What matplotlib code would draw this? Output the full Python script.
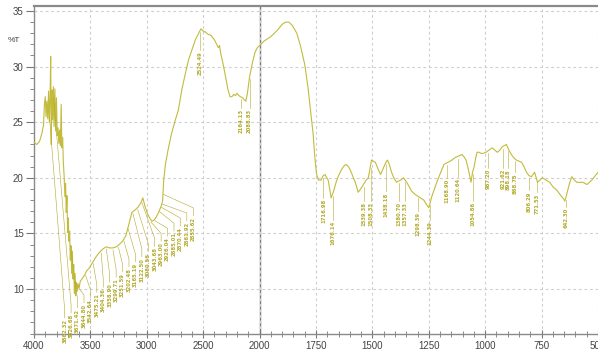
import numpy as np
import matplotlib
matplotlib.use('Agg')
import matplotlib.pyplot as plt
from matplotlib.ticker import FixedLocator

# Spectrum (wavenumber cm-1, %T)
wavenumber = [
    4000, 3975, 3950, 3930, 3915, 3908, 3900, 3893, 3886, 3878, 3871, 3864, 3857, 3852, 3847,
    3841, 3835, 3828, 3822, 3815, 3808, 3801, 3794, 3787, 3780, 3773, 3766, 3759, 3753, 3746,
    3740, 3733, 3726, 3720, 3714, 3708, 3702, 3696, 3690, 3684, 3678, 3672, 3666, 3660, 3654,
    3648, 3642, 3636, 3630, 3624, 3617, 3610, 3600, 3590, 3575, 3555, 3535, 3510, 3480, 3450,
    3420, 3390, 3360, 3330, 3300, 3270, 3245, 3215, 3185, 3160, 3132, 3105, 3075, 3050, 3035,
    3015, 2995, 2975, 2955, 2935, 2915, 2895, 2875, 2860, 2850, 2835, 2810, 2780, 2750, 2720,
    2690, 2660, 2630, 2600, 2570, 2545, 2520, 2500, 2480, 2455, 2430, 2400, 2380, 2365, 2355,
    2345, 2325, 2300, 2280, 2262, 2245, 2230, 2215, 2200, 2185, 2170, 2150, 2135, 2122, 2108,
    2090, 2065, 2040, 2020, 2000,
    1980, 1950, 1920, 1900, 1885, 1870, 1855, 1835, 1818, 1800, 1786, 1775, 1763, 1755, 1748,
    1740, 1728, 1718, 1710, 1702, 1696, 1688, 1683, 1672, 1661, 1650, 1638, 1625, 1616, 1606,
    1598, 1588, 1576, 1563, 1552, 1540, 1528, 1518, 1510, 1504, 1495, 1487, 1475, 1464, 1451,
    1440, 1433, 1425, 1415, 1405, 1393, 1385, 1375, 1362, 1348, 1337, 1326, 1310, 1295, 1280,
    1272, 1260, 1250, 1237, 1220, 1205, 1195, 1183, 1165, 1147, 1135, 1125, 1113, 1103, 1094,
    1085, 1075, 1063, 1056, 1049, 1042, 1036, 1027, 1018, 1008, 996, 983, 969, 958, 946,
    935, 924, 915, 906, 895, 884, 873, 862, 850, 839, 828, 817, 806, 795, 788,
    781, 774, 768, 757, 746, 730, 714, 700, 683, 672, 661, 652, 647, 640, 634,
    625, 616, 605, 594, 580, 567, 558, 549, 538, 527, 512, 500,
]
transmittance = [
    23.2, 23.0, 23.3, 24.0, 24.8, 26.6, 27.3, 25.5, 26.9, 25.3, 27.8, 25.0, 27.6, 30.9, 23.0,
    27.9, 25.2, 28.2, 24.6, 28.0, 24.2, 27.2, 23.8, 24.5, 23.1, 24.3, 22.9, 26.6, 22.7, 23.6,
    21.4, 20.2, 18.3, 19.5, 16.9, 18.4, 15.1, 16.4, 14.3, 15.2, 12.6, 13.9, 11.4, 13.4, 10.9,
    12.2, 9.6, 11.4, 9.4, 10.6, 9.8, 10.5, 10.1, 10.7, 10.9, 11.2, 11.6, 11.9, 12.4, 12.9,
    13.3, 13.6, 13.8, 13.7, 13.7, 13.8, 14.0, 14.3, 14.8, 15.8, 16.9, 17.1, 17.4, 17.8, 18.2,
    17.4, 16.8, 16.4, 16.1, 16.2, 16.5, 16.9, 17.4, 17.9, 19.8, 21.2, 22.6, 24.0, 25.1, 26.1,
    27.9, 29.3, 30.6, 31.5, 32.4, 32.9, 33.4, 33.2, 33.1, 32.9, 32.8, 32.4, 32.0, 31.7, 31.9,
    31.2, 30.3, 29.0, 27.9, 27.3, 27.3, 27.5, 27.4, 27.6, 27.4, 27.3, 27.2, 27.0, 26.9, 27.6,
    29.0, 30.3, 31.3, 31.7, 31.9,
    32.3, 32.7, 33.3, 33.8, 34.0, 34.0, 33.7, 33.0, 31.8, 30.2, 28.2, 26.2, 24.0, 21.8, 20.4,
    19.8, 19.8, 20.2, 20.3, 20.0, 19.8, 18.8, 18.2, 18.8, 19.6, 20.2, 20.7, 21.1, 21.2, 21.0,
    20.7, 20.2, 19.6, 18.7, 19.0, 19.4, 19.8, 20.0, 20.9, 21.6, 21.5, 21.4, 20.8, 20.3, 20.9,
    21.4, 21.6, 21.2, 20.5, 20.0, 19.6, 19.7, 19.8, 20.0, 19.6, 19.2, 18.8, 18.5, 18.3, 18.1,
    18.0, 17.6, 17.3, 18.3, 19.3, 20.1, 20.6, 21.2, 21.4, 21.6, 21.8, 21.9, 22.0, 22.1, 21.9,
    21.6, 20.8, 19.6, 20.5, 21.0, 21.8, 22.3, 22.3, 22.2, 22.2, 22.3, 22.5, 22.7, 22.5, 22.3,
    22.5, 22.8, 22.9, 23.0, 22.5, 22.1, 21.8, 21.6, 21.5, 21.4, 21.0, 20.5, 20.2, 20.1, 20.3,
    20.5, 20.0, 19.6, 19.8, 20.0, 19.8, 19.6, 19.2, 18.9, 18.6, 18.3, 18.1, 17.9, 18.4, 18.9,
    19.6, 20.1, 19.8, 19.6, 19.6, 19.6, 19.5, 19.4, 19.6, 19.8, 20.2, 20.5,
]

# peak labels
left_peaks = [3862.32, 3826.68, 3671.42, 3644.80, 3542.64, 3475.21, 3404.36, 3358.90,
              3299.71, 3251.59, 3202.48, 3165.19, 3122.50, 3080.56, 3043.68, 2963.00,
              2926.04, 2885.01, 2870.44, 2861.92, 2855.62]
top_peaks = [2524.49, 2164.13, 2088.83]
top_label_tops = [31.5, 26.3, 26.3]
right_peaks = [1716.98, 1676.14, 1539.38, 1508.33, 1438.18, 1380.70, 1357.33, 1298.39,
               1244.39, 1168.90, 1120.64, 1054.86, 987.20, 921.62, 898.18, 868.75,
               806.29, 771.53, 642.30]
right_label_tops = [18.2, 16.2, 17.9, 17.9, 18.8, 17.9, 17.9, 17.0, 16.2, 20.0,
                    20.1, 17.9, 20.9, 20.9, 20.9, 20.5, 18.9, 18.7, 17.4]

line_color = '#c2bb3c'
label_color = '#b3ab2c'


# x axis: 4000-2000 compressed by half, 2000-500 full scale
def fwd(x):
    x = np.asarray(x, dtype=float)
    return np.where(x > 2000, 2000 + (x - 2000) / 2, x)


def inv(y):
    y = np.asarray(y, dtype=float)
    return np.where(y > 2000, 2000 + (y - 2000) * 2, y)


def curve_at(w):
    return np.interp(w, wavenumber[::-1], transmittance[::-1])


fig = plt.figure(figsize=(5.98, 3.56), dpi=100)
ax = fig.add_axes([34 / 598, 22 / 356, 1 - 34 / 598, 328 / 356])
ax.set_xscale('function', functions=(fwd, inv))
ax.set_xlim(4000, 500)
ax.set_ylim(5.96, 35.45)

# grid
ax.set_xticks([4000, 3500, 3000, 2500, 2000, 1750, 1500, 1250, 1000, 750, 500])
ax.set_xticklabels(['4000', '3500', '3000', '2500', '2000', '1750', '1500', '1250', '1000', '750', '500'])
minor_x = list(range(3900, 2000, -100)) + list(range(1950, 500, -50))
ax.xaxis.set_minor_locator(FixedLocator(minor_x))
ax.set_yticks([10, 15, 20, 25, 30, 35])
ax.yaxis.set_minor_locator(FixedLocator(np.arange(6, 36, 1)))
ax.grid(True, which='major', color='#cfcfcf', linestyle=(0, (2.5, 2.5)), linewidth=0.8)
ax.axvline(2000, color='#777777', linewidth=1.0, zorder=1)

ax.plot(wavenumber, transmittance, color=line_color, linewidth=0.8, zorder=3)

lab_kw = dict(rotation=90, ha='center', va='top', fontsize=3.8, color=label_color,
              fontweight='bold', zorder=4)

# crowded labels on the left, fanned out
lx = inv(np.linspace(fwd(3728), fwd(2588), len(left_peaks)))
ly = np.linspace(7.4, 16.6, len(left_peaks))
for p, x, y in zip(left_peaks, lx, ly):
    yc = curve_at(p)
    ax.plot([p, x, x], [yc - 0.2, y + 0.7, y], color=label_color, linewidth=0.4, zorder=3)
    ax.text(x, y - 0.1, f'{p:.2f}', **lab_kw)

for p, y in zip(top_peaks + right_peaks, top_label_tops + right_label_tops):
    yc = curve_at(p)
    ax.plot([p, p], [yc - 0.2, y], color=label_color, linewidth=0.4, zorder=3)
    ax.text(p, y - 0.1, f'{p:.2f}', **lab_kw)

# axes styling
for s in ['left', 'top', 'bottom']:
    ax.spines[s].set_color('#8a8a8a')
ax.spines['top'].set_linewidth(1.6)
ax.spines['left'].set_linewidth(1.0)
ax.spines['bottom'].set_linewidth(1.0)
ax.spines['right'].set_visible(False)
ax.tick_params(axis='x', which='major', direction='inout', length=6, width=0.8,
               colors='#777777', labelcolor='#444444', labelsize=7, pad=2)
ax.tick_params(axis='x', which='minor', direction='inout', length=4, width=0.6, colors='#777777')
ax.tick_params(axis='y', which='major', direction='out', length=6, width=0.8,
               colors='#777777', labelcolor='#444444', labelsize=7, pad=1.5)
ax.tick_params(axis='y', which='minor', direction='out', length=3, width=0.6, colors='#777777')
for t in ax.get_xticklabels() + ax.get_yticklabels():
    t.set_fontfamily('Liberation Sans')

fig.text(8 / 598, 1 - 40 / 356, '%T', fontsize=6, color='#444444', va='center',
         family='Liberation Sans')

fig.savefig('out.png', dpi=100)
